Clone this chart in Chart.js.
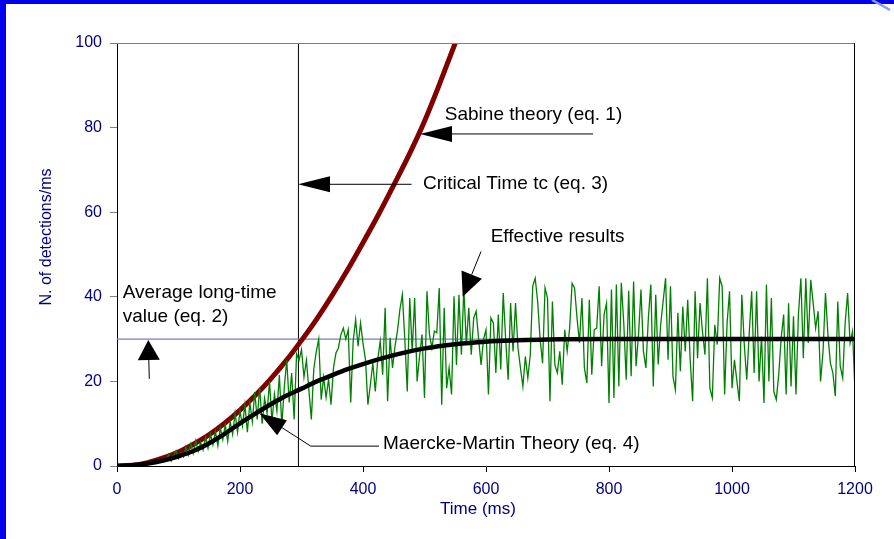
<!DOCTYPE html>
<html>
<head>
<meta charset="utf-8">
<script src="https://cdn.jsdelivr.net/npm/chart.js@4.4.1/dist/chart.umd.min.js"></script>
<style>
  html, body { margin: 0; padding: 0; background: #0000ee; }
  canvas { display: block; }
</style>
</head>
<body>
<canvas id="chart" width="894" height="539"></canvas>
<script>
// Sabine theory (eq. 1)
const sabineTime = [0, 25, 50, 75, 100, 125, 150, 175, 200, 225, 250, 275, 300, 325, 350, 375, 400, 425, 450, 475, 500, 525, 550];
const sabineValues = [0, 0.2, 0.8, 1.9, 3.3, 5.2, 7.4, 10.1, 13.2, 16.7, 20.6, 24.9, 29.7, 34.8, 40.4, 46.4, 52.8, 59.4, 66.4, 73.6, 81.5, 90.5, 100];

// Maercke-Martin theory (eq. 4)
const mmTime = [0, 25, 50, 75, 100, 125, 150, 175, 200, 225, 250, 275, 300, 325, 350, 375, 400, 450, 500, 550, 600, 650, 700, 800, 900, 1000, 1100, 1200];
const mmValues = [0, 0.2, 0.6, 1.3, 2.3, 3.6, 5.4, 7.6, 10.1, 12.4, 14.6, 16.6, 18.3, 20.0, 21.5, 22.9, 24.1, 26.2, 27.8, 28.8, 29.4, 29.7, 29.9, 30, 30, 30, 30, 30];

// Effective results, one value every 4 ms from 80 ms
const effectiveStart = 80;
const effectiveStep = 4;
const effectiveValues = [
  1.5, 2.8, 1.2, 2.5, 3.6, 1.8, 3.2, 2.2, 4.5, 2.6,
  5.2, 3.0, 6.0, 3.5, 5.5, 3.8, 6.8, 4.2, 7.5, 5.0,
  8.2, 4.8, 9.0, 6.2, 9.8, 5.8, 10.5, 7.5, 12.5, 8.0,
  13.0, 9.5, 14.5, 8.0, 15.0, 10.5, 17.5, 11.0, 18.5, 10.0,
  16.0, 12.5, 20.0, 10.5, 17.0, 13.0, 21.5, 9.5, 18.5, 25.0,
  15.0, 22.0, 11.0, 26.5,
  25, 27.5, 21, 25, 18, 11, 23, 27, 30, 15.7,
  21, 16.2, 20.5, 14.5, 23.2, 26.7, 27.9, 31, 32.6, 30,
  32.2, 15, 29.5, 34.6, 28.3, 33.8, 29, 25.2, 14.5, 19.2,
  24.4, 17.6, 25.2, 29.5, 21.6, 37.4, 15.3, 30.3, 23.2, 28.3,
  31.9, 37, 40.5, 30, 17.6, 39.7, 27.1, 39.7, 20, 26,
  31.1, 16.1, 41.3, 31.1, 27.9, 31.9, 31.5,
  42.1, 14.5, 37.4, 18.4, 23.2, 16.9, 40.1, 23.9, 40.5, 26.3,
  42.1, 28.7, 37.4, 26.3, 35, 36.6, 30, 23.9, 30, 32.2,
  16.9, 35, 33.8, 22, 35.8, 22.8, 40.9, 30, 20.4, 38.5,
  27.1, 38.5, 27.9, 23.2, 18.8, 25.9, 20.8, 26.3, 42.5, 44.4,
  38.9, 30, 24.3, 42.1, 39.7, 15.3, 38.9, 23.9, 22, 27.1,
  19.2, 32.2, 27.1, 32.6, 43.2, 42.1,
  35, 29.1, 39.7, 23.2, 19.6, 39.3, 21.6, 32.2, 32.6, 42.5,
  23.6, 35.8, 38.5, 14.9, 41.7, 16.1, 42.9, 18.8, 43.3, 33.8,
  20.4, 41.4, 21.2, 43.6, 23.6, 31, 41.7, 27.1, 23.2, 35,
  42.9, 18.8, 40.5, 24, 33.4, 38.9, 44.4, 25.1, 42.5, 21.2,
  18, 36.2, 22.4, 37.7, 27.1, 39.3, 25.1, 15.3, 41.3, 25.5,
  38.5, 31.8, 26.3, 44.4, 18.4, 16.1,
  33.4, 28.7, 44.4, 42.5, 16.9, 33.8, 41.3, 18.4, 25.1, 20,
  15.3, 40.5, 28.7, 20.4, 31.4, 41.3, 22, 41.3, 20, 30.6,
  14.9, 42.9, 20, 39.7, 17.6, 15.7, 21.6, 30.3, 35.8, 16.9,
  38.5, 18.8, 35.4, 16.9, 35.8, 44.4, 25.5, 44.4, 29.1, 44,
  38.5, 32.6, 36.6, 20, 27, 40.9, 31, 24.3, 22, 16.5,
  38.9, 23.6, 20.8, 33.8, 40.9, 29.1, 31.8, 17.6
];

// Average long-time value (eq. 2) and critical time tc (eq. 3)
const averageValue = 30;
const criticalTime = 295;

// axis ticks
const xTicks = [0, 200, 400, 600, 800, 1000, 1200];
const yTicks = [0, 20, 40, 60, 80, 100];

function toPoints(xs, ys) {
  return xs.map((x, i) => ({ x: x, y: ys[i] }));
}

const effectivePoints = effectiveValues.map((v, i) => ({ x: effectiveStart + i * effectiveStep, y: v }));

// annotations in data units: polyline ending at the arrow tip
const notes = [
  { lines: ["Sabine theory (eq. 1)"], at: [533, 83.1], arrow: [[774, 78.5], [492.7, 78.5]], head: [32, 8] },
  { lines: ["Critical Time tc (eq. 3)"], at: [497.6, 66.7], arrow: [[479, 66.6], [294.3, 66.6]], head: [32, 8] },
  { lines: ["Effective results"], at: [607.6, 54.1], arrow: [[591.9, 50.7], [562.1, 40.0]], head: [24, 11] },
  { lines: ["Average long-time", "value (eq. 2)"], at: [9.3, 41.0], arrow: [[52.5, 20.6], [50.9, 29.8]], head: [20, 11] },
  { lines: ["Maercke-Martin Theory (eq. 4)"], at: [432.5, 5.2], arrow: [[426, 4.7], [315, 4.7], [231.4, 12.5]], head: [27, 9] }
];

const font = "Arial, 'Liberation Sans', sans-serif";
const navy = "#000080";

function drawArrow(ctx, pts, headLen, headHalf) {
  const n = pts.length;
  const tip = pts[n - 1], prev = pts[n - 2];
  const ang = Math.atan2(tip.y - prev.y, tip.x - prev.x);
  const bx = tip.x - headLen * Math.cos(ang);
  const by = tip.y - headLen * Math.sin(ang);
  ctx.beginPath();
  ctx.moveTo(pts[0].x, pts[0].y);
  for (let i = 1; i < n - 1; i++) ctx.lineTo(pts[i].x, pts[i].y);
  ctx.lineTo(bx, by);
  ctx.stroke();
  ctx.beginPath();
  ctx.moveTo(tip.x, tip.y);
  ctx.lineTo(bx + headHalf * Math.sin(ang), by - headHalf * Math.cos(ang));
  ctx.lineTo(bx - headHalf * Math.sin(ang), by + headHalf * Math.cos(ang));
  ctx.closePath();
  ctx.fill();
}

const decorations = {
  id: "decorations",
  beforeDraw(chart) {
    const ctx = chart.ctx;
    ctx.save();
    ctx.fillStyle = "#0000ee";
    ctx.fillRect(0, 0, chart.width, chart.height);
    ctx.fillStyle = "#ffffff";
    ctx.fillRect(6, 4, chart.width - 6, chart.height - 4);
    // light streak in the top right corner of the frame
    ctx.strokeStyle = "#7f9dff";
    ctx.lineWidth = 2.5;
    ctx.beginPath();
    ctx.moveTo(872, 0);
    ctx.lineTo(890, 10);
    ctx.stroke();
    ctx.restore();
  },
  afterDraw(chart) {
    const ctx = chart.ctx;
    const xs = chart.scales.x, ys = chart.scales.y;
    const area = chart.chartArea;
    ctx.save();
    // frame top and right
    ctx.lineWidth = 1;
    ctx.strokeStyle = "#808080";
    ctx.beginPath();
    ctx.moveTo(area.left, area.top + 0.5);
    ctx.lineTo(area.right, area.top + 0.5);
    ctx.stroke();
    ctx.strokeStyle = "#000000";
    ctx.beginPath();
    ctx.moveTo(area.right - 0.5, area.top);
    ctx.lineTo(area.right - 0.5, area.bottom);
    ctx.stroke();

    // notes and arrows
    ctx.fillStyle = "#000000";
    ctx.strokeStyle = "#000000";
    ctx.lineWidth = 1;
    ctx.font = "19px " + font;
    ctx.textBaseline = "middle";
    ctx.textAlign = "left";
    notes.forEach((note) => {
      const tx = xs.getPixelForValue(note.at[0]);
      const ty = ys.getPixelForValue(note.at[1]);
      note.lines.forEach((line, i) => ctx.fillText(line, tx, ty + i * 24.6));
      const pts = note.arrow.map((p) => ({ x: xs.getPixelForValue(p[0]), y: ys.getPixelForValue(p[1]) }));
      drawArrow(ctx, pts, note.head[0], note.head[1]);
    });

    // axis titles
    ctx.fillStyle = navy;
    ctx.font = "17px " + font;
    ctx.textAlign = "center";
    ctx.fillText("Time (ms)", 478, 509);
    ctx.translate(47, 237);
    ctx.rotate(-Math.PI / 2);
    ctx.font = "16px " + font;
    ctx.fillText("N. of detections/ms", 0, 0);
    ctx.restore();
  }
};

const ctx = document.getElementById("chart").getContext("2d");
new Chart(ctx, {
  type: "line",
  data: {
    datasets: [
      {
        label: "Maercke-Martin Theory (eq. 4)",
        data: toPoints(mmTime, mmValues),
        borderColor: "#000000",
        borderWidth: 4.5,
        cubicInterpolationMode: "monotone",
        borderCapStyle: "round",
        pointRadius: 0,
        order: 0
      },
      {
        label: "Effective results",
        data: effectivePoints,
        borderColor: "#008000",
        borderWidth: 1.3,
        tension: 0,
        pointRadius: 0,
        order: 1
      },
      {
        label: "Sabine theory (eq. 1)",
        data: toPoints(sabineTime, sabineValues),
        borderColor: "#800000",
        borderWidth: 5,
        cubicInterpolationMode: "monotone",
        borderCapStyle: "round",
        pointRadius: 0,
        order: 2
      },
      {
        label: "Average long-time value (eq. 2)",
        data: [{ x: 0, y: averageValue }, { x: 1200, y: averageValue }],
        borderColor: "#7b7bc6",
        borderWidth: 1.3,
        pointRadius: 0,
        order: 3
      },
      {
        label: "Critical Time tc (eq. 3)",
        data: [{ x: criticalTime, y: 0 }, { x: criticalTime, y: 100 }],
        borderColor: "#000000",
        borderWidth: 1,
        pointRadius: 0,
        order: 4
      }
    ]
  },
  options: {
    responsive: false,
    animation: false,
    events: [],
    layout: { padding: { top: 43, right: 39, left: 0, bottom: 0 } },
    plugins: { legend: { display: false }, tooltip: { enabled: false } },
    scales: {
      x: {
        type: "linear",
        min: 0,
        max: 1200,
        afterBuildTicks: (s) => { s.ticks = xTicks.map((v) => ({ value: v })); },
        afterFit: (s) => { s.height = 73; },
        ticks: { color: navy, font: { family: font, size: 16 }, padding: 8, maxRotation: 0, callback: (v) => String(v) },
        grid: { drawOnChartArea: false, tickLength: 6, color: "#000000" },
        border: { color: "#000000", width: 1 }
      },
      y: {
        type: "linear",
        min: 0,
        max: 100,
        afterBuildTicks: (s) => { s.ticks = yTicks.map((v) => ({ value: v })); },
        afterFit: (s) => { s.width = 117; },
        ticks: { color: navy, font: { family: font, size: 16 }, padding: 8, callback: (v) => String(v) },
        grid: { drawOnChartArea: false, tickLength: 7, color: "#808080" },
        border: { color: "#000000", width: 1 }
      }
    }
  },
  plugins: [decorations]
});
</script>
</body>
</html>
